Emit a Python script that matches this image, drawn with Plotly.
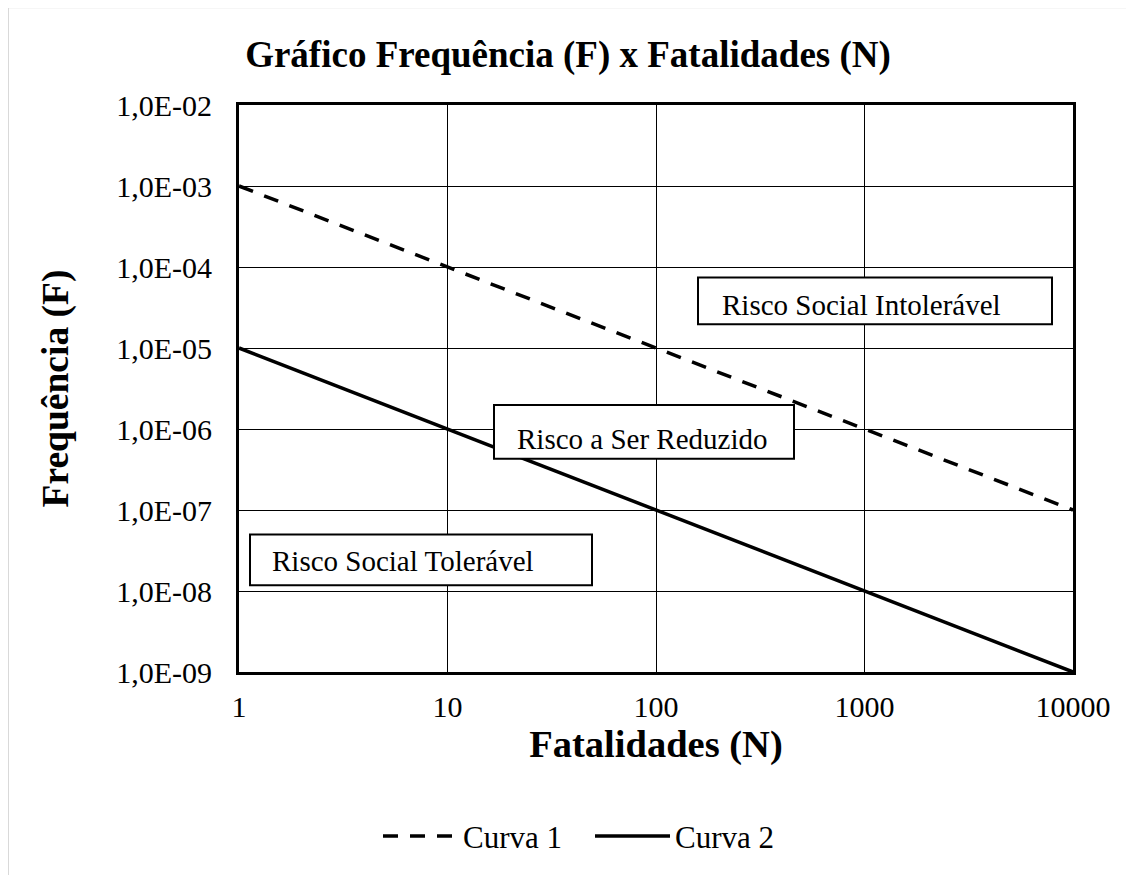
import plotly.graph_objects as go

# ---- data ----
fatalidades = [1, 10, 100, 1000, 10000]
curva1 = [1e-3, 1e-4, 1e-5, 1e-6, 1e-7]
curva2 = [1e-5, 1e-6, 1e-7, 1e-8, 1e-9]
series_names = ["Curva 1", "Curva 2"]

x_tickvals = [1, 10, 100, 1000, 10000]
x_ticktext = ["1", "10", "100", "1000", "10000"]
y_tickvals = [1e-2, 1e-3, 1e-4, 1e-5, 1e-6, 1e-7, 1e-8, 1e-9]
y_ticktext = ["1,0E-02", "1,0E-03", "1,0E-04", "1,0E-05",
              "1,0E-06", "1,0E-07", "1,0E-08", "1,0E-09"]

region_labels = ["Risco Social Intolerável", "Risco a Ser Reduzido", "Risco Social Tolerável"]

FONT = "Liberation Serif, Times New Roman, serif"

# page offset (body margin) and figure size
OFF = 8
W, H = 1134 - OFF, 875 - OFF
# plot area in screen pixels
L, R, T, B = 239, 1073, 105, 674
PW, PH = R - L, B - T


def px(xs):
    return (xs - L) / PW


def py(ys):
    return (B - ys) / PH


fig = go.Figure()
fig.add_trace(go.Scatter(x=fatalidades, y=curva1, mode="lines", name=series_names[0],
                         line=dict(color="black", width=3.5, dash="15px,12px")))
fig.add_trace(go.Scatter(x=fatalidades, y=curva2, mode="lines", name=series_names[1],
                         line=dict(color="black", width=3.5)))

shapes = []
annotations = []

# outer chart border (light grey)
shapes.append(dict(type="rect", xref="paper", yref="paper",
                   x0=px(8), x1=px(1200), y0=py(940), y1=py(7),
                   line=dict(color="#d9d9d9", width=2), fillcolor="rgba(0,0,0,0)",
                   layer="below"))

# label boxes: (left, right, top, bottom, text-left, text-center-y) in screen px
boxes = [
    (698, 1052, 278, 325, 720, 306),
    (494, 794, 406, 460, 515, 440),
    (250, 592, 536, 587, 270, 563),
]
for (x0, x1, y0, y1, tx, ty), lab in zip(boxes, region_labels):
    shapes.append(dict(type="rect", xref="paper", yref="paper",
                       x0=px(x0), x1=px(x1), y0=py(y1), y1=py(y0),
                       line=dict(color="black", width=2), fillcolor="white", layer="above"))
    annotations.append(dict(text=lab, xref="paper", yref="paper", x=px(tx), y=py(ty),
                            xanchor="left", yanchor="middle", showarrow=False,
                            font=dict(family=FONT, size=29, color="black")))

fig.update_layout(
    width=W, height=H,
    margin=dict(l=L - OFF, r=W - (R - OFF), t=T - OFF, b=H - (B - OFF)),
    paper_bgcolor="white", plot_bgcolor="white",
    font=dict(family=FONT, color="black", size=29),
    title=dict(text="<b>Gráfico Frequência (F) x Fatalidades (N)</b>",
               x=(568 - OFF) / W, xref="container", xanchor="center",
               y=1 - (54 - OFF) / H, yref="container", yanchor="middle",
               font=dict(family=FONT, size=37, color="black")),
    xaxis=dict(type="log", range=[0, 4], tickvals=x_tickvals, ticktext=x_ticktext,
               showgrid=True, gridcolor="black", gridwidth=1,
               showline=True, linecolor="black", linewidth=3, mirror=True,
               ticks="", ticklabelstandoff=6, zeroline=False,
               tickfont=dict(family=FONT, size=30, color="black"),
               title=dict(text="<b>Fatalidades (N)</b>", standoff=4,
                          font=dict(family=FONT, size=38.5, color="black"))),
    yaxis=dict(type="log", range=[-9, -2], tickvals=y_tickvals, ticktext=y_ticktext,
               showgrid=True, gridcolor="black", gridwidth=1,
               showline=True, linecolor="black", linewidth=3, mirror=True,
               ticks="", ticklabelstandoff=18, zeroline=False,
               tickfont=dict(family=FONT, size=30, color="black"),
               title=dict(text="<b>Frequência (F)</b>", standoff=37,
                          font=dict(family=FONT, size=37.5, color="black"))),
    legend=dict(orientation="h", x=px(590), y=py(839), xanchor="center", yanchor="middle",
                font=dict(family=FONT, size=31, color="black"), bgcolor="rgba(0,0,0,0)",
                itemwidth=75, entrywidth=122, tracegroupgap=0),
    shapes=shapes,
    annotations=annotations,
    showlegend=True,
)

fig.write_html("out.html")
